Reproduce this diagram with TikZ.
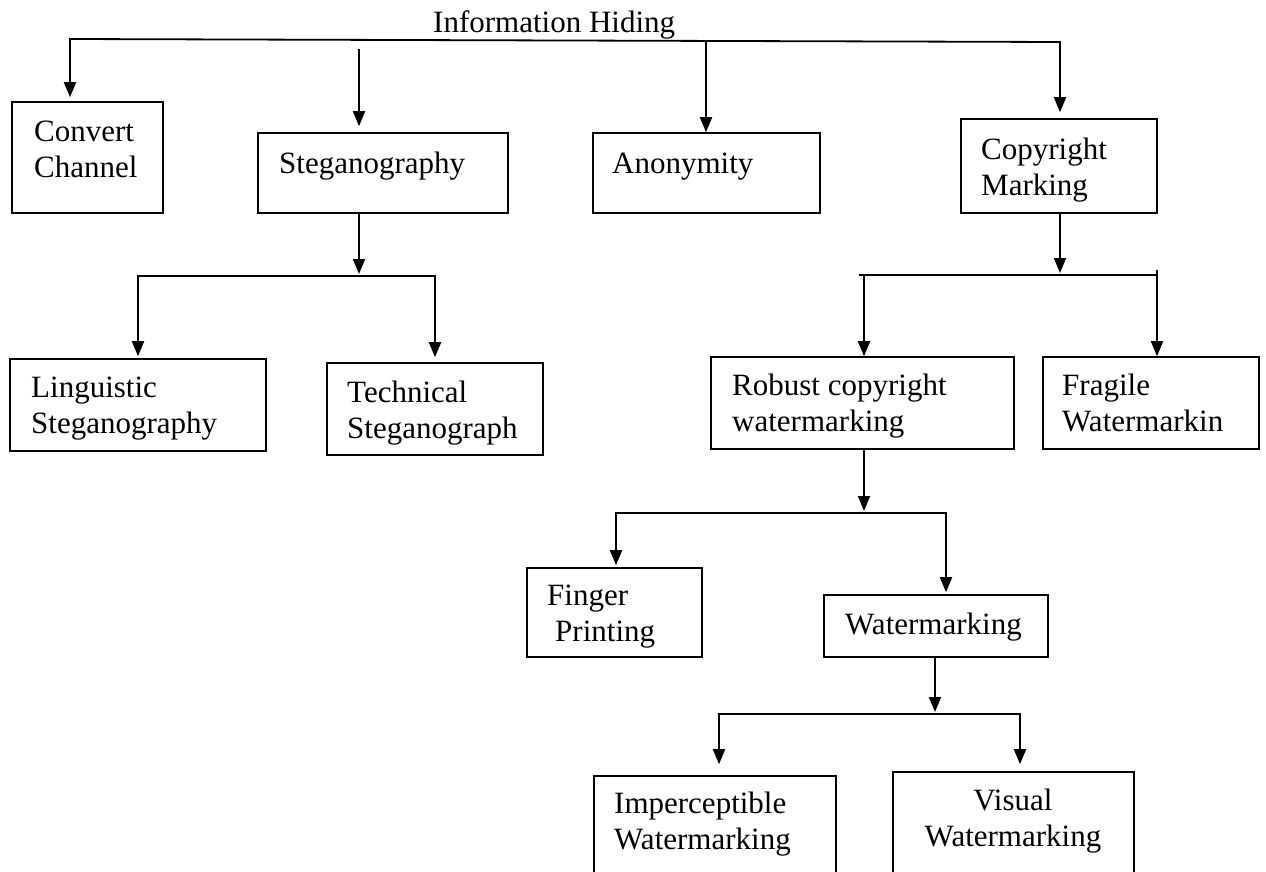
\documentclass[tikz,border=0pt]{standalone}
\usepackage{fontspec}
\setmainfont{Liberation Serif}
\usetikzlibrary{arrows.meta,calc}
\newcommand{\tstrut}{\rule{0pt}{24pt}}
\begin{document}
\begin{tikzpicture}[x=1pt,y=-1pt,
  box/.style={draw, line width=1.6pt, inner sep=0pt, rectangle},
  lbl/.style={font=\fontsize{31}{36}\selectfont, inner sep=0pt, anchor=north west, align=left},
  conn/.style={line width=1.8pt},
  arr/.style={conn, -{Triangle[width=12pt,length=15pt]}},
  arrs/.style={conn, {Triangle[width=12pt,length=15pt]}-{Triangle[width=12pt,length=15pt]}}]
\fill[white] (0,0) rectangle (1266,872);
\clip (0,0) rectangle (1266,872);

% boxes
\node[box, minimum width=151pt, minimum height=111pt] (conv) at (87.5,157.5) {};
\node[box, minimum width=250pt, minimum height=80pt] (steg) at (383,173) {};
\node[box, minimum width=227pt, minimum height=80pt] (anon) at (706.5,173) {};
\node[box, minimum width=196pt, minimum height=94pt] (copy) at (1059,166) {};
\node[box, minimum width=256pt, minimum height=92pt] (ling) at (138,405) {};
\node[box, minimum width=216pt, minimum height=92pt] (tech) at (435,409) {};
\node[box, minimum width=303pt, minimum height=92pt] (rob) at (862.5,403) {};
\node[box, minimum width=216pt, minimum height=92pt] (frag) at (1151,403) {};
\node[box, minimum width=175pt, minimum height=89pt] (fing) at (614.5,612.5) {};
\node[box, minimum width=224pt, minimum height=62pt] (wm) at (936,626) {};
\node[box, minimum width=242pt, minimum height=114pt] (imp) at (715,833) {};
\node[box, minimum width=241pt, minimum height=118pt] (vis) at (1013.5,831) {};

% labels
\node[lbl] (ttitle) at (433,8) {\tstrut Information Hiding};
\node[lbl] (tconv) at (34,117) {\tstrut Convert\\Channel};
\node[lbl] (tsteg) at (279,149) {\tstrut Steganography};
\node[lbl] (tanon) at (612,149) {\tstrut Anonymity};
\node[lbl] (tcopy) at (981,135) {\tstrut Copyright\\Marking};
\node[lbl] (tling) at (31,373) {\tstrut Linguistic\\Steganography};
\node[lbl] (ttech) at (347,378) {\tstrut Technical\\Steganograph};
\node[lbl] (trob) at (732,371) {\tstrut Robust copyright\\watermarking};
\node[lbl] (tfrag) at (1062,371) {\tstrut Fragile\\Watermarkin};
\node[lbl] (tfing) at (547,581) {\tstrut Finger\\\hspace*{8pt}Printing};
\node[lbl] (twm) at (845,610) {\tstrut Watermarking};
\node[lbl] (timp) at (614,789) {\tstrut Imperceptible\\Watermarking};
\node[lbl, anchor=north, align=center] (tvis) at (1013,786) {\tstrut Visual\\Watermarking};

% top level connectors
\coordinate (hl) at (70,39);
\coordinate (hr) at (1060,42);
\coordinate (ha) at (706,41);
\coordinate (sa) at (359,49);
\draw[arrs, shorten <=4pt, shorten >=6pt] (hl |- conv.north) -- (hl) -- (hr) -- (hr |- copy.north);
\draw[arr, shorten >=6pt] (sa) -- (sa |- steg.north);
\draw[arr] (ha) -- (ha |- anon.north);

% steganography branch
\coordinate (sj) at (359,276);
\draw[arr, shorten >=2pt] (steg.south -| sj) -- (sj);
\draw[arrs, shorten <=2pt, shorten >=5pt] (ling.north) -- (ling.north |- sj) -- (tech.north |- sj) -- (tech.north);

% copyright branch
\coordinate (cj) at (1060,275);
\coordinate (cl) at (864,275);
\coordinate (cl0) at (859,275);
\coordinate (cr) at (1157,275);
\coordinate (cr0) at (1157,270);
\draw[arr, shorten >=2pt] (copy.south -| cj) -- (cj);
\draw[arrs] (rob.north -| cl) -- (cl) -- (cr) -- (frag.north -| cr);
\draw[conn] (cl0) -- (cl);
\draw[conn] (cr0) -- (cr);

% robust branch
\coordinate (rj) at (864,513);
\coordinate (rl) at (616,513);
\coordinate (rr) at (946,513);
\draw[arr, shorten >=2pt] (rob.south -| rj) -- (rj);
\draw[arrs, shorten <=2pt, shorten >=2pt] (fing.north -| rl) -- (rl) -- (rr) -- (wm.north -| rr);

% watermarking branch
\coordinate (wj) at (935,714);
\coordinate (wl) at (719,714);
\coordinate (wr) at (1020,714);
\draw[arr, shorten >=2pt] (wm.south -| wj) -- (wj);
\draw[arrs, shorten <=11pt, shorten >=7pt] (imp.north -| wl) -- (wl) -- (wr) -- (vis.north -| wr);
\end{tikzpicture}
\end{document}
